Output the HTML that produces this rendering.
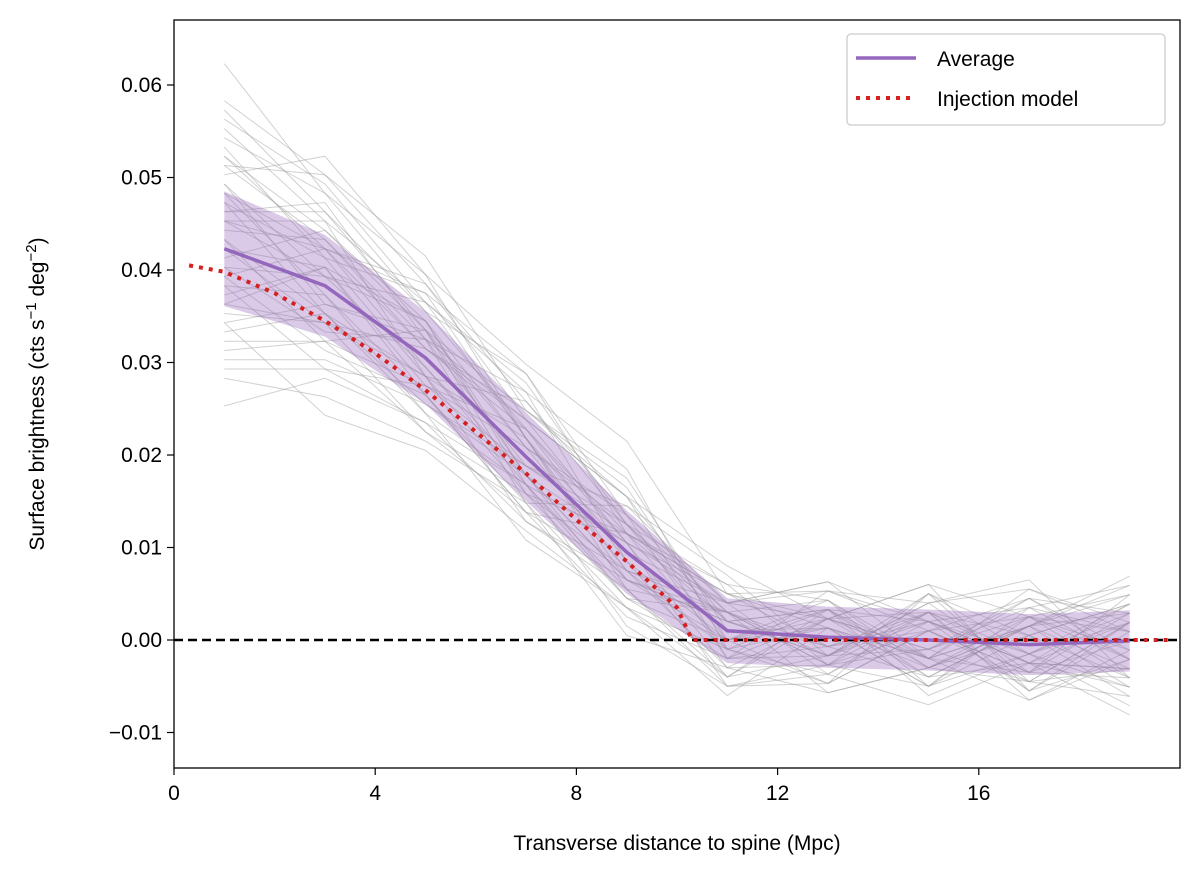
<!DOCTYPE html>
<html><head><meta charset="utf-8"><style>
body{margin:0;background:#fff;}
svg text{font-family:"Liberation Sans","DejaVu Sans",sans-serif;fill:#000;}
</style></head><body>
<svg id="chart" width="1200" height="875" xmlns="http://www.w3.org/2000/svg">
<g id="grayg"></g>
<g id="bandg"></g>
<g id="marks"></g>
<rect x="174" y="20" width="1006" height="748" fill="none" stroke="#000" stroke-width="1.3"/>
<g id="xt"></g>
<g id="yt"></g>
<text x="677" y="850" font-size="21" text-anchor="middle">Transverse distance to spine (Mpc)</text>
<text transform="translate(44,394) rotate(-90)" font-size="21" text-anchor="middle">Surface brightness (cts s<tspan dy="-8" font-size="15">−1</tspan><tspan dy="8"> deg</tspan><tspan dy="-8" font-size="15">−2</tspan><tspan dy="8">)</tspan></text>
<g>
<rect x="847" y="34" width="318" height="91" rx="4" fill="#fff" fill-opacity="0.85" stroke="#ccc" stroke-width="1.3"/>
<line x1="856" y1="58" x2="916" y2="58" stroke="#9467bd" stroke-width="3.5"/>
<text x="937" y="66" font-size="21">Average</text>
<line x1="856" y1="98" x2="916" y2="98" stroke="#d62020" stroke-width="4" stroke-dasharray="4,6"/>
<text x="937" y="106" font-size="21">Injection model</text>
</g>
</svg>
<script>
const xs=[1,3,5,7,9,11,13,15,17,19];
const avg=[0.0423,0.0383,0.0305,0.0198,0.0095,0.0010,0.0003,0.0000,-0.0005,-0.0001];
const bandHalf=[0.0062,0.0055,0.0050,0.0048,0.0045,0.0035,0.0033,0.0033,0.0033,0.0033];
const injX=[0.3,1,2,3,4,5,6,7,8,9,10,10.3,12,14,16,18,19.8];
const injY=[0.0405,0.0398,0.0375,0.0345,0.031,0.027,0.0225,0.018,0.013,0.0085,0.0035,0,0,0,0,0,0];
const dev=[
[12,10,5,3,2,1,-2,3,-1,2],[-6,-4,-2,6,4,-3,2,-1,3,-4],[8,14,9,10,12,4,1,-2,2,5],[-12,-8,-5,-2,-3,2,-1,3,-5,-2],
[5,3,7,2,-4,-5,3,2,-2,4],[-3,-7,-4,-6,-2,-4,-6,-3,-4,-6],[10,6,4,-2,1,3,5,4,6,2],[-8,-14,-10,-8,-6,-2,1,-2,2,-3],
[2,5,1,4,6,7,2,-1,4,6],[-4,-1,-6,-3,-8,-6,-4,-7,-2,-8],[16,12,8,6,3,2,4,-3,3,1],[0,2,-3,1,3,1,-2,4,-3,0],
[7,-2,3,-4,2,5,-3,1,5,-2],[-10,-6,-8,-4,-5,-3,-2,2,-1,3],[4,8,5,9,4,3,6,2,-2,-3],[-2,-5,2,-5,-6,-7,1,-5,1,-4],
[20,10,9,2,-3,-1,2,3,1,4],[-17,-10,-7,-7,-4,2,-3,-1,-4,2],[3,1,6,7,9,-2,-5,1,-3,5],[6,4,-1,-3,1,4,2,6,3,-1],
[-5,2,4,1,-2,-2,3,-4,2,3],[9,12,11,5,6,1,-1,2,-2,-5],[-9,-3,-6,-9,-6,-5,2,-2,-6,-2],[1,-3,-2,2,0,3,-4,2,4,1],
[13,7,6,8,3,-1,3,-3,2,7],[-14,-12,-9,-5,-9,-4,-3,-5,-1,-7],[4,9,2,-1,5,6,-2,5,-4,2],[-7,-4,1,3,-1,-1,4,-2,5,-1],
[11,3,-2,-4,-2,2,-3,3,-2,-3],[-1,6,3,5,8,0,1,-3,1,4],[6,-1,-4,-6,-7,-3,5,1,-3,-4],[-11,-6,-3,-1,2,4,-1,-4,2,6],
[3,4,8,4,1,-4,2,6,-5,1],[-4,-9,-7,-3,-4,-6,-5,1,3,-2],[15,8,3,1,4,2,-2,-1,5,3],[-2,1,-1,-2,-3,1,3,-6,-1,-5],
[9,5,2,7,-1,-5,-2,4,7,-4],[-6,2,-4,-5,5,3,6,-2,-3,3],[1,-6,3,-2,-5,-1,-5,5,1,-6],[14,11,6,2,-2,3,2,-4,-2,2],
[-3,4,7,9,2,-2,-4,3,-6,-1],[5,-3,-5,-1,3,5,4,-5,3,5],[-8,-2,2,4,6,-3,-1,1,-4,-3],[3,7,-2,-7,-3,1,3,-2,6,1],
[-13,-9,-3,3,1,-6,-3,5,-1,4],[7,1,4,-3,-5,2,-6,-3,2,-5],[0,-4,-8,-6,2,4,5,2,-5,2],[10,4,1,5,7,-1,1,-5,4,-2]];
const X0=174,XS=50.3,Y0=640,YS=9250;
const sx=v=>X0+v*XS, sy=v=>Y0-v*YS;
const NS='http://www.w3.org/2000/svg';
function mk(tag,attrs,parent){const e=document.createElementNS(NS,tag);for(const k in attrs)e.setAttribute(k,attrs[k]);document.getElementById(parent).appendChild(e);return e;}
dev.forEach(d=>{
 const p=mk('polyline',{points:xs.map((x,i)=>sx(x)+','+sy(avg[i]+d[i]/1000)).join(' '),fill:'none',stroke:'#999',
 'stroke-width':1,'stroke-opacity':0.45},'grayg');
 
 
});
const bandTop=xs.map((x,i)=>sx(x)+','+sy(avg[i]+bandHalf[i]));
const bandBot=xs.map((x,i)=>sx(x)+','+sy(avg[i]-bandHalf[i])).reverse();
const band=mk('polygon',{points:bandTop.concat(bandBot).join(' '),fill:'#9467bd','fill-opacity':0.35},'bandg');


const zl=mk('line',{x1:174,x2:1180,y1:sy(0),y2:sy(0),stroke:'#000','stroke-width':2.5,'stroke-dasharray':'9,5'},'marks');


const al=mk('polyline',{points:xs.map((x,i)=>sx(x)+','+sy(avg[i])).join(' '),fill:'none',stroke:'#9467bd','stroke-width':3.5},'marks');


const il=mk('polyline',{points:injX.map((x,i)=>sx(x)+','+sy(injY[i])).join(' '),fill:'none',stroke:'#d62020','stroke-width':4,'stroke-dasharray':'4,6'},'marks');


const xticks=[0,4,8,12,16];
xticks.forEach(t=>{
 mk('line',{x1:sx(t),x2:sx(t),y1:768,y2:775,stroke:'#000','stroke-width':1.2},'xt');
 const tx=mk('text',{x:sx(t),y:800,'font-size':21,'text-anchor':'middle'},'xt');tx.textContent=t;
 
 
});
const yticks=[-0.01,0,0.01,0.02,0.03,0.04,0.05,0.06];
yticks.forEach(t=>{
 mk('line',{x1:167,x2:174,y1:sy(t),y2:sy(t),stroke:'#000','stroke-width':1.2},'yt');
 const tx=mk('text',{x:162,y:sy(t)+7,'font-size':21,'text-anchor':'end'},'yt');
 tx.textContent=(t<0?'−':'')+Math.abs(t).toFixed(2);
 
 
});
</script>
</body></html>
